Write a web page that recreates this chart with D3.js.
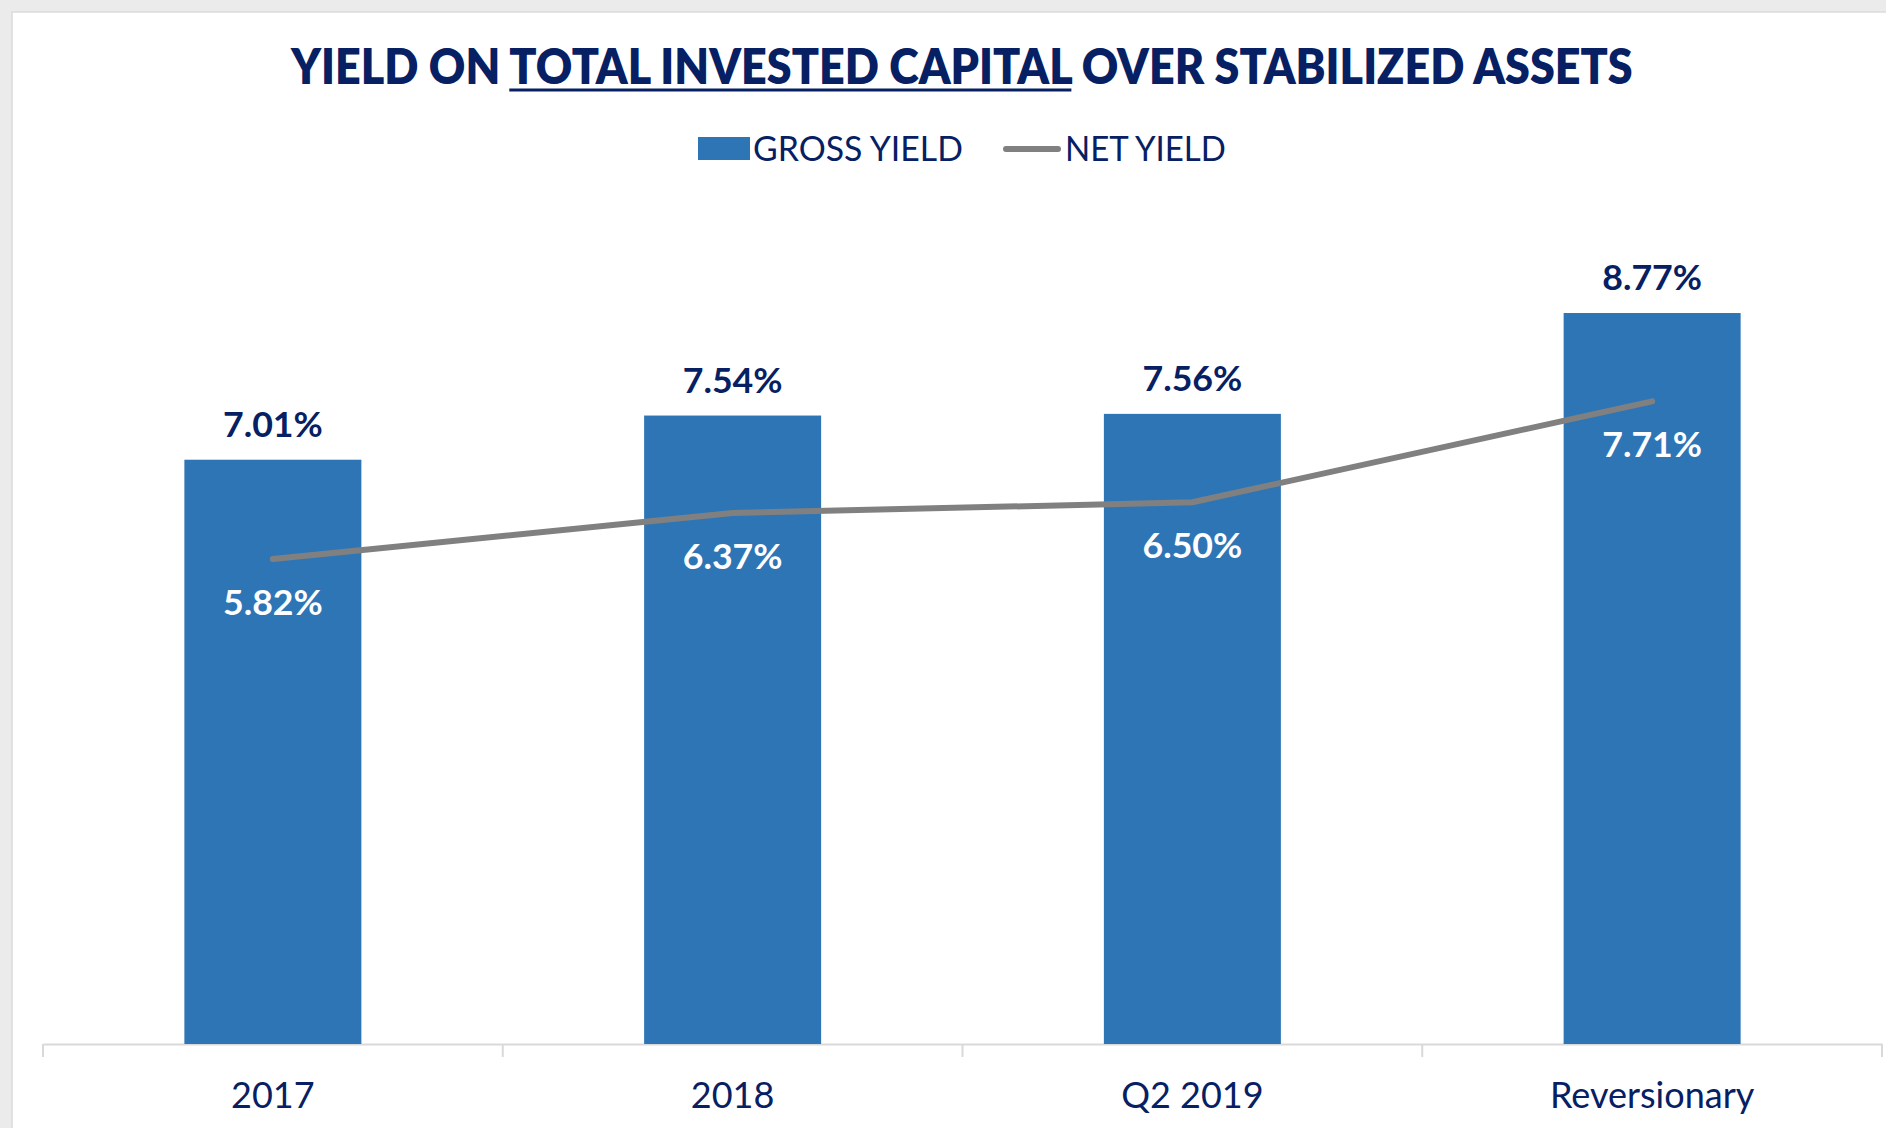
<!DOCTYPE html>
<html><head><meta charset="utf-8">
<script src="https://cdn.jsdelivr.net/npm/d3@7"></script>
<style>
html,body{margin:0;padding:0;background:#ececec;}
svg{display:block;}
text{font-family:Lato,"Open Sans",sans-serif;}
</style></head>
<body>
<svg id="c" width="1886" height="1128"></svg>
<script>
const categories = ["2017", "2018", "Q2 2019", "Reversionary"];
const grossYield = [7.01, 7.54, 7.56, 8.77];
const netYield = [5.82, 6.37, 6.50, 7.71];
const titleParts = ["YIELD ON ", "TOTAL INVESTED CAPITAL", " OVER STABILIZED ASSETS"];
const legendLabels = ["GROSS YIELD", "NET YIELD"];

const navy = "#062063", barColor = "#2E75B6", lineColor = "#808080";
const svg = d3.select("#c");

// background panel
svg.append("rect").attr("x",0).attr("y",0).attr("width",1886).attr("height",1128).attr("fill","#ebebeb");
svg.append("rect").attr("x",12).attr("y",12).attr("width",1880).attr("height",1130)
  .attr("fill","#fff").attr("stroke","#dcdcdc").attr("stroke-width",1.5);

// helper: horizontally scale a text group to fit a width
function fitGroup(g, textNode, x0, targetW){
  const w = textNode.getComputedTextLength();
  const sx = targetW / w;
  g.attr("transform", `translate(${x0},0) scale(${sx},1)`);
  return sx;
}

// title
const tg = svg.append("g");
const tt = tg.append("text").attr("x",0).attr("y",84)
  .attr("font-size",49).attr("font-weight",800).attr("fill",navy).text(titleParts.join(""));
fitGroup(tg, tt.node(), 291, 1342);
const u0 = tt.node().getSubStringLength(0, titleParts[0].length);
const u1 = tt.node().getSubStringLength(titleParts[0].length, titleParts[1].length);
tg.append("line").attr("x1",u0).attr("x2",u0+u1).attr("y1",90).attr("y2",90)
  .attr("stroke",navy).attr("stroke-width",3);

// legend
svg.append("rect").attr("x",698).attr("y",137).attr("width",52).attr("height",23).attr("fill",barColor);
const lg1 = svg.append("g");
const lt1 = lg1.append("text").attr("x",0).attr("y",161).attr("font-size",35).attr("fill",navy).text(legendLabels[0]);
fitGroup(lg1, lt1.node(), 753, 210);
svg.append("line").attr("x1",1006).attr("x2",1058).attr("y1",149).attr("y2",149)
  .attr("stroke",lineColor).attr("stroke-width",6).attr("stroke-linecap","round");
const lg2 = svg.append("g");
const lt2 = lg2.append("text").attr("x",0).attr("y",161).attr("font-size",35).attr("fill",navy).text(legendLabels[1]);
fitGroup(lg2, lt2.node(), 1065, 161);

// scales
const x = d3.scaleBand().domain(categories).range([43,1882]).padding(0);
const y = d3.scaleLinear().domain([0,10]).range([1044,210.5]);
const barW = x.bandwidth()*0.385;
const cx = d => x(d)+x.bandwidth()/2;

// axis
const axis = d3.axisBottom(x).tickSize(0).tickFormat("");
const ag = svg.append("g").attr("transform","translate(0,1044)").call(axis);
ag.select(".domain").attr("stroke","#d9d9d9").attr("stroke-width",2);
const bounds = categories.map(c=>x(c)).concat([x.range()[1]]);
ag.selectAll("line.bnd").data(bounds).enter().append("line").attr("class","bnd")
  .attr("x1",d=>d).attr("x2",d=>d).attr("y1",0).attr("y2",13).attr("stroke","#d9d9d9").attr("stroke-width",2);

// bars
svg.selectAll("rect.bar").data(categories).enter().append("rect").attr("class","bar")
  .attr("x",d=>cx(d)-barW/2).attr("width",barW)
  .attr("y",(d,i)=>y(grossYield[i])).attr("height",(d,i)=>y(0)-y(grossYield[i]))
  .attr("fill",barColor);

// line
const line = d3.line().x((d,i)=>cx(categories[i])).y(d=>y(d));
svg.append("path").datum(netYield).attr("d",line).attr("fill","none")
  .attr("stroke",lineColor).attr("stroke-width",6).attr("stroke-linecap","round").attr("stroke-linejoin","round");

// labels helper with horizontal stretch
function label(txt, xc, yb, size, weight, fill, sx){
  const g = svg.append("g").attr("transform",`translate(${xc},0) scale(${sx},1)`);
  g.append("text").attr("x",0).attr("y",yb).attr("text-anchor","middle")
   .attr("font-size",size).attr("font-weight",weight).attr("fill",fill).text(txt);
}
categories.forEach((c,i)=>{
  label(grossYield[i].toFixed(2)+"%", cx(c), y(grossYield[i])-23, 34, 700, navy, 1.05);
  label(netYield[i].toFixed(2)+"%", cx(c), y(netYield[i])+56, 34, 700, "#fff", 1.05);
  label(c, cx(c), 1108, 36, 400, navy, 1.0);
});
</script>
</body></html>
